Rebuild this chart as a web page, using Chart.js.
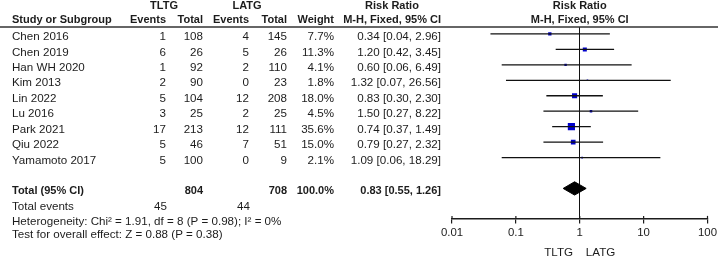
<!DOCTYPE html>
<html>
<head>
<meta charset="utf-8">
<script src="https://cdn.jsdelivr.net/npm/chart.js@4.4.1/dist/chart.umd.min.js"></script>
<style>
  body { margin: 0; background: #fff; }
  #wrap { position: relative; width: 720px; height: 256px; }
</style>
</head>
<body>
<div id="wrap"><canvas id="forest"></canvas></div>
<script>
// study level data
const studies = ['Chen 2016', 'Chen 2019', 'Han WH 2020', 'Kim 2013', 'Lin 2022', 'Lu 2016', 'Park 2021', 'Qiu 2022', 'Yamamoto 2017'];
const tltgEvents = [1, 6, 1, 2, 5, 3, 17, 5, 5];
const tltgTotal = [108, 26, 92, 90, 104, 25, 213, 46, 100];
const latgEvents = [4, 5, 2, 0, 12, 2, 12, 7, 0];
const latgTotal = [145, 26, 110, 23, 208, 25, 111, 51, 9];
const weights = [7.7, 11.3, 4.1, 1.8, 18.0, 4.5, 35.6, 15.0, 2.1];
const riskRatio = [0.34, 1.20, 0.60, 1.32, 0.83, 1.50, 0.74, 0.79, 1.09];
const ciLow = [0.04, 0.42, 0.06, 0.07, 0.30, 0.27, 0.37, 0.27, 0.06];
const ciHigh = [2.96, 3.45, 6.49, 26.56, 2.30, 8.22, 1.49, 2.32, 18.29];

// pooled result
const totalTltg = 804;
const totalLatg = 708;
const totalWeight = 100.0;
const totalEventsTltg = 45;
const totalEventsLatg = 44;
const pooled = [0.83, 0.55, 1.26]; // estimate, low, high
const heterogeneityText = 'Heterogeneity: Chi\u00b2 = 1.91, df = 8 (P = 0.98); I\u00b2 = 0%';
const overallText = 'Test for overall effect: Z = 0.88 (P = 0.38)';

const xTicks = [0.01, 0.1, 1, 10, 100];
const favourLabel = 'TLTG    LATG';

const ink = '#1c1c1c';
const fam = '"Liberation Sans", Arial, sans-serif';
const font = '11.6px ' + fam;
const boldFont = 'bold 11px ' + fam;
const totalRow = studies.length + 1;

function fmt(v) { return v.toFixed(2); }
function ciText(e, l, h) { return fmt(e) + ' [' + fmt(l) + ', ' + fmt(h) + ']'; }

// one line per confidence interval
const ciSets = studies.map((s, i) => ({
    type: 'line',
    data: [{ x: ciLow[i], y: i }, { x: ciHigh[i], y: i }],
    borderColor: '#111',
    borderWidth: 1.3,
    pointRadius: 0,
    fill: false
}));

const squares = {
    type: 'scatter',
    data: studies.map((s, i) => ({ x: riskRatio[i], y: i })),
    pointStyle: 'rect',
    pointRadius: weights.map(w => 0.85 * Math.sqrt(w)),
    backgroundColor: '#0000cd',
    borderWidth: 0
};

// diamond for the pooled estimate
const dh = 0.43;
const diamond = {
    type: 'line',
    data: [
        { x: pooled[1], y: totalRow },
        { x: pooled[0], y: totalRow - dh },
        { x: pooled[2], y: totalRow },
        { x: pooled[0], y: totalRow + dh },
        { x: pooled[1], y: totalRow }
    ],
    borderColor: '#000',
    backgroundColor: '#000',
    borderWidth: 1,
    pointRadius: 0,
    fill: 'shape',
    tension: 0
};

const tablePlugin = {
    id: 'table',
    beforeDatasetsDraw(chart) {
        const ctx = chart.ctx, xs = chart.scales.x, a = chart.chartArea;
        const x1 = Math.floor(xs.getPixelForValue(1)) + 0.5;
        ctx.save();
        ctx.strokeStyle = '#111';
        ctx.lineWidth = 1;
        ctx.beginPath();
        ctx.moveTo(x1, a.top);
        ctx.lineTo(x1, a.bottom);
        ctx.stroke();
        // tick marks reach a little above the axis
        ctx.strokeStyle = ink;
        ctx.lineWidth = 1.2;
        xTicks.forEach(t => {
            const px = xs.getPixelForValue(t);
            ctx.beginPath();
            ctx.moveTo(px, a.bottom - 2.5);
            ctx.lineTo(px, a.bottom);
            ctx.stroke();
        });
        ctx.restore();
    },
    afterDraw(chart) {
        const ctx = chart.ctx, ys = chart.scales.y, a = chart.chartArea;
        const mid = a.left + (a.right - a.left) / 2;
        ctx.save();
        ctx.fillStyle = ink;
        ctx.textBaseline = 'middle';

        function put(txt, x, y, align, bold) {
            ctx.font = bold ? boldFont : font;
            ctx.textAlign = align;
            ctx.fillText(txt, x, y);
        }

        // header
        put('TLTG', 164, 6, 'center', true);
        put('LATG', 247, 6, 'center', true);
        put('Risk Ratio', 392, 6, 'center', true);
        put('Risk Ratio', mid, 6, 'center', true);
        put('Study or Subgroup', 12, 20, 'left', true);
        put('Events', 166, 20, 'right', true);
        put('Total', 203, 20, 'right', true);
        put('Events', 249, 20, 'right', true);
        put('Total', 287, 20, 'right', true);
        put('Weight', 334, 20, 'right', true);
        put('M-H, Fixed, 95% CI', 441, 20, 'right', true);
        put('M-H, Fixed, 95% CI', mid, 20, 'center', true);

        ctx.strokeStyle = '#333';
        ctx.lineWidth = 1.5;
        ctx.beginPath();
        ctx.moveTo(0, a.top);
        ctx.lineTo(718, a.top);
        ctx.stroke();

        // study rows
        studies.forEach((s, i) => {
            const y = ys.getPixelForValue(i) + 3;
            put(s, 12, y, 'left', false);
            put(String(tltgEvents[i]), 166, y, 'right', false);
            put(String(tltgTotal[i]), 203, y, 'right', false);
            put(String(latgEvents[i]), 249, y, 'right', false);
            put(String(latgTotal[i]), 287, y, 'right', false);
            put(weights[i].toFixed(1) + '%', 334, y, 'right', false);
            put(ciText(riskRatio[i], ciLow[i], ciHigh[i]), 441, y, 'right', false);
        });

        // totals
        const ty = ys.getPixelForValue(totalRow) + 3;
        put('Total (95% CI)', 12, ty, 'left', true);
        put(String(totalTltg), 203, ty, 'right', true);
        put(String(totalLatg), 287, ty, 'right', true);
        put(totalWeight.toFixed(1) + '%', 334, ty, 'right', true);
        put(ciText(pooled[0], pooled[1], pooled[2]), 441, ty, 'right', true);

        put('Total events', 12, ty + 15, 'left', false);
        put(String(totalEventsTltg), 167, ty + 15, 'right', false);
        put(String(totalEventsLatg), 250, ty + 15, 'right', false);
        put(heterogeneityText, 12, ty + 30, 'left', false);
        put(overallText, 12, ty + 43.5, 'left', false);
        ctx.restore();
    }
};

new Chart(document.getElementById('forest'), {
    type: 'scatter',
    data: { datasets: [...ciSets, squares, diamond] },
    options: {
        responsive: true,
        maintainAspectRatio: false,
        animation: false,
        devicePixelRatio: 1,
        layout: { padding: { left: 452, right: 11.3, top: 27, bottom: -4 } },
        plugins: { legend: { display: false }, tooltip: { enabled: false } },
        scales: {
            x: {
                type: 'logarithmic',
                min: 0.01,
                max: 100,
                afterBuildTicks: scale => { scale.ticks = xTicks.map(v => ({ value: v })); },
                ticks: {
                    color: ink,
                    font: { family: fam, size: 11.4 },
                    padding: 3,
                    maxRotation: 0,
                    autoSkip: false,
                    callback: v => String(v)
                },
                grid: { drawOnChartArea: false, drawTicks: true, tickLength: 5, color: ink, lineWidth: 1.2 },
                border: { display: true, color: ink, width: 1.5 },
                title: {
                    display: true,
                    text: favourLabel,
                    color: ink,
                    font: { family: fam, size: 11.6 },
                    padding: { top: 3, bottom: 0 }
                }
            },
            y: {
                type: 'linear',
                display: false,
                reverse: true,
                min: -0.45,
                max: 11.94
            }
        }
    },
    plugins: [tablePlugin]
});
</script>
</body>
</html>
